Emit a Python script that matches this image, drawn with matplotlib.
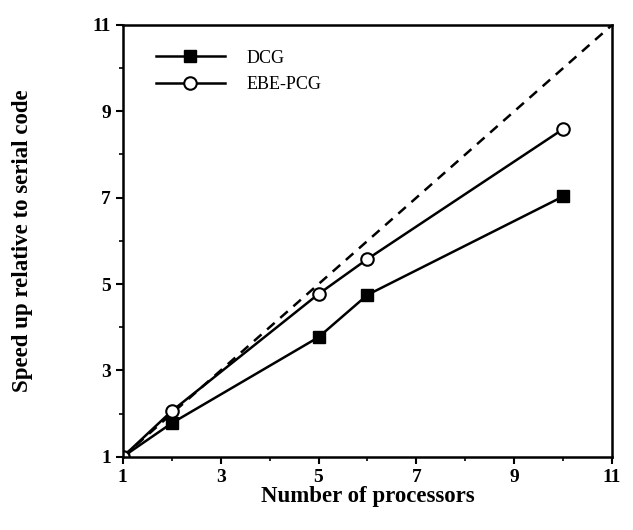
import numpy as np
import matplotlib.pyplot as plt

procs = [1, 2, 5, 6, 10]
dcg = [1, 1.78, 3.77, 4.75, 7.03]
ebe_pcg = [1, 2.06, 4.77, 5.58, 8.59]
ideal_x = [1, 11]
ideal_y = [1, 11]

plt.rcParams['font.family'] = ['Liberation Serif', 'DejaVu Serif']

fig = plt.figure(figsize=(6.33, 5.3), dpi=100)
ax = fig.add_axes([0.194, 0.138, 0.773, 0.815])

ax.plot(ideal_x, ideal_y, 'k--', lw=1.8, dashes=(4, 3))
ax.plot(procs, dcg, 'k-', marker='s', ms=9, mfc='black', lw=1.8, label='DCG')
ax.plot(procs, ebe_pcg, 'k-', marker='o', ms=9, mfc='white', mew=1.5, lw=1.8, label='EBE-PCG')

ax.set_xlim(1, 11)
ax.set_ylim(1, 11)
ax.set_xticks([1, 3, 5, 7, 9, 11])
ax.set_yticks([1, 3, 5, 7, 9, 11])
ax.set_xticks([2, 4, 6, 8, 10], minor=True)
ax.set_yticks([2, 4, 6, 8, 10], minor=True)
ax.tick_params(which='major', direction='out', length=5, width=1.5, labelsize=14)
ax.tick_params(which='minor', direction='out', length=3, width=1.2)
for lab in ax.get_xticklabels() + ax.get_yticklabels():
    lab.set_fontweight('bold')
for s in ax.spines.values():
    s.set_linewidth(1.8)

ax.set_xlabel('Number of processors', fontsize=16.5, fontweight='bold', labelpad=0)
ax.set_ylabel('Speed up relative to serial code', fontsize=16.5, fontweight='bold', labelpad=43)

ax.legend(loc='upper left', frameon=False, fontsize=13, handlelength=3.8,
          bbox_to_anchor=(0.035, 0.98), handletextpad=1.2)

fig.savefig('out.png', dpi=100)
